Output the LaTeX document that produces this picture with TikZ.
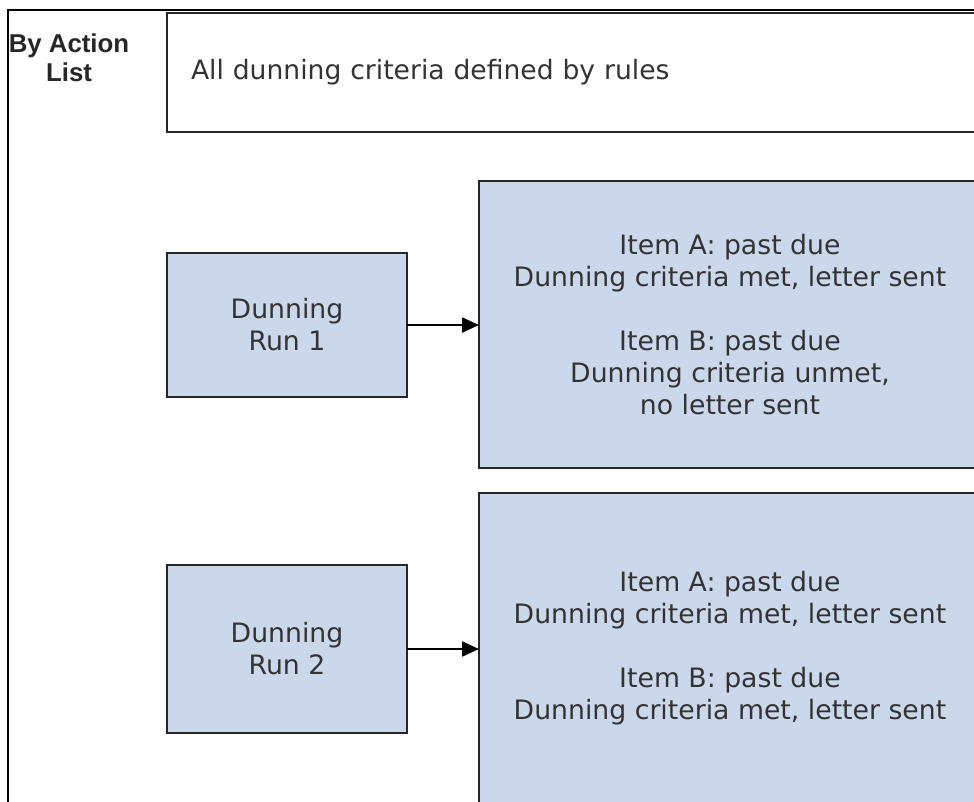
\documentclass[tikz,border=0pt]{standalone}
\usepackage{fontspec}
\setmainfont{DejaVu Sans}
\newfontfamily\headfont{Liberation Sans}
\usetikzlibrary{arrows.meta,positioning,calc}
\definecolor{runblue}{RGB}{203,216,235}
\definecolor{inkgray}{RGB}{51,51,51}

\begin{document}
\begin{tikzpicture}[x=1pt,y=-1pt,
plainbox/.style={draw=black!85,line width=2.5pt,fill=white,inner sep=0pt,outer sep=0pt},
runbox/.style={plainbox,fill=runblue,align=center,text=inkgray,
  font=\fontsize{26.7}{32}\selectfont},
arc/.style={-{Triangle[length=17pt,width=15pt]},line width=2.2pt}]
\useasboundingbox (0,0) rectangle (974,801);
\clip (0,0) rectangle (974,801);
% outer frame
\draw[line width=1.6pt] (8,810) |- (980,10);
\node[font=\headfont\bfseries\fontsize{25.8}{29}\selectfont,align=center,text=black!85] (title) at (69,58) {By Action\\List};
\node[plainbox,anchor=west,text width=782pt,inner xsep=24pt,minimum height=119pt,
  align=left,text=inkgray,font=\fontsize{26.6}{32}\selectfont] (rules) at (167,72.5)
  {All dunning criteria defined by rules};
% first run
\node[runbox,minimum width=240pt,minimum height=144pt] (run1) at (287,325) {Dunning\\Run 1};
\node[runbox,minimum width=502pt,minimum height=287pt] (res1) at (730,324.5)
  {Item A: past due\\Dunning criteria met, letter sent\\[32pt]Item B: past due\\Dunning criteria unmet,\\no letter sent};
\draw[arc] (run1.east) -- (run1.east -| res1.west);
% second run
\node[runbox,minimum width=240pt,minimum height=168pt] (run2) at (287,649) {Dunning\\Run 2};
\node[runbox,minimum width=502pt,minimum height=310pt] (res2) at (730,648)
  {Item A: past due\\Dunning criteria met, letter sent\\[32pt]Item B: past due\\Dunning criteria met, letter sent};
\draw[arc] (run2.east) -- (run2.east -| res2.west);
\end{tikzpicture}
\end{document}
